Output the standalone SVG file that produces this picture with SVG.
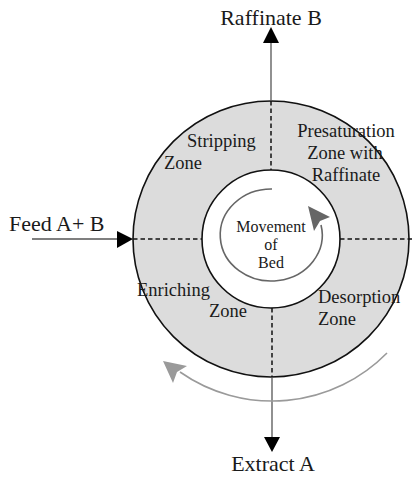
<svg xmlns="http://www.w3.org/2000/svg" width="412" height="477" viewBox="0 0 412 477">
<style>
text{font-family:"Liberation Serif","Times New Roman",serif;fill:#1a1a1a}
.big{font-size:22px}
.zone{font-size:18.5px}
.mv{font-size:16px}
.dash{stroke:#111;stroke-width:1.5;stroke-dasharray:4.5 3;fill:none}
.solid{stroke:#555;stroke-width:1.3;fill:none}
</style>
<rect width="412" height="477" fill="#fff"/>
<g id="outer-ring">
<circle cx="271" cy="239" r="138" fill="#dcdcdc" stroke="#111" stroke-width="1.6"/>
</g>
<g id="inner-bed">
<circle cx="271" cy="239" r="69" fill="#fff" stroke="#111" stroke-width="1.6"/>
</g>
<g id="connectors">
<line class="solid" x1="271" y1="43" x2="271" y2="101"/>
<polygon points="271,27 263,43 279,43" fill="#000"/>
<line class="dash" x1="271" y1="101" x2="271" y2="170"/>
<line class="dash" x1="272" y1="308" x2="272" y2="377"/>
<line class="solid" x1="272" y1="377" x2="272" y2="437"/>
<polygon points="272,452 264,437 280,437" fill="#000"/>
<line class="solid" x1="32" y1="239" x2="118" y2="239"/>
<polygon points="133,239 117,231 117,248" fill="#000"/>
<line class="dash" x1="133" y1="239" x2="202" y2="239"/>
<line class="dash" x1="340" y1="239" x2="412" y2="239"/>
<path d="M 272 189 A 51 46 0 1 0 321 225" fill="none" stroke="#666" stroke-width="1.6"/>
<polygon points="308,206 330,217 320,221 314,231" fill="#666"/>
<path d="M 387 353 A 161 161 0 0 1 180 372" fill="none" stroke="#9a9a9a" stroke-width="1.6"/>
<polygon points="163,361 187,366 177,372 173,383" fill="#9a9a9a"/>
</g>
<g id="labels">
<text class="big" x="271" y="25" text-anchor="middle">Raffinate B</text>
<text class="big" x="9" y="231">Feed A+ B</text>
<text class="big" x="273" y="471" text-anchor="middle">Extract A</text>
</g>
<g id="stripping-zone">
<text class="zone" x="187" y="147">Stripping</text>
<text class="zone" x="164" y="169">Zone</text>
</g>
<g id="presaturation-zone">
<text class="zone" x="346" y="137" text-anchor="middle">Presaturation</text>
<text class="zone" x="345" y="159" text-anchor="middle">Zone with</text>
<text class="zone" x="346" y="181" text-anchor="middle">Raffinate</text>
</g>
<g id="enriching-zone">
<text class="zone" x="137" y="296">Enriching</text>
<text class="zone" x="209" y="317">Zone</text>
</g>
<g id="desorption-zone">
<text class="zone" x="318" y="303">Desorption</text>
<text class="zone" x="318" y="325">Zone</text>
</g>
<g id="movement-label">
<text class="mv" x="271" y="232" text-anchor="middle">Movement</text>
<text class="mv" x="271" y="250" text-anchor="middle">of</text>
<text class="mv" x="271" y="268" text-anchor="middle">Bed</text>
</g>
</svg>
